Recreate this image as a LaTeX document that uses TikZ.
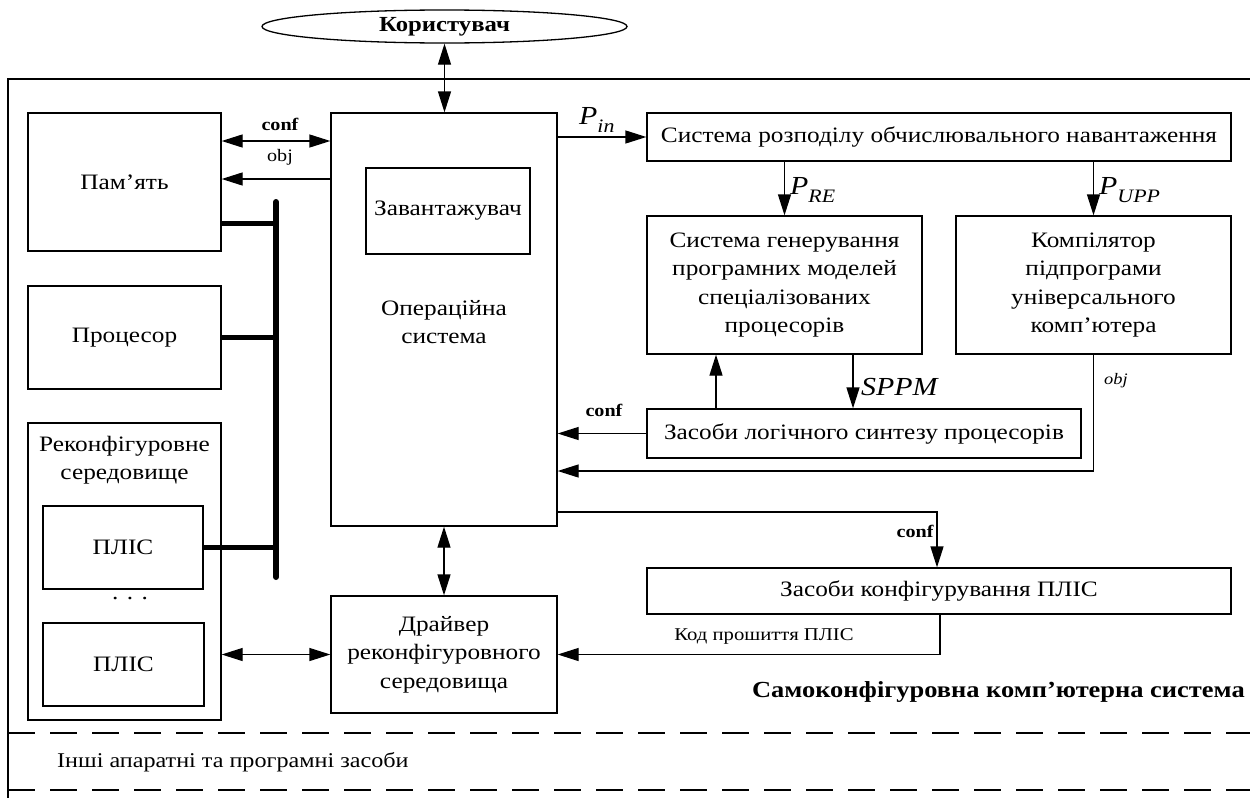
\documentclass[tikz,border=0pt]{standalone}
\usepackage{fontspec}
\setmainfont{Liberation Serif}[FakeStretch=1.15]
\usetikzlibrary{arrows.meta,shapes.geometric}
\begin{document}
\begin{tikzpicture}[x=1pt,y=-1pt,
  box/.style={draw, line width=1.3pt, inner sep=0pt, align=center, font=\fontsize{22}{28.5}\selectfont},
  con/.style={line width=1.3pt},
  arr/.style={con,-{Triangle[length=21pt,width=13pt]}},
  darr/.style={con,{Triangle[length=21pt,width=13pt]}-{Triangle[length=21pt,width=13pt]}},
  bus/.style={line width=6pt, line cap=round},
  busbr/.style={line width=5pt},
  lblb/.style={font=\fontsize{17.5}{18}\selectfont\bfseries, inner sep=0pt},
  lbl/.style={font=\fontsize{17.5}{18}\selectfont, inner sep=0pt},
  lbli/.style={font=\fontsize{26}{26}\selectfont\itshape, inner sep=0pt},
]
\useasboundingbox (0,0) rectangle (1250,798);
\fill[white] (0,0) rectangle (1250,798);

% frame
\draw[line width=2pt] (1250,78.5) -- (8,78.5) -- (8,798);
\draw[line width=1.3pt, dash pattern=on 27pt off 15pt] (8,733) -- (1250,733);
\draw[line width=1.3pt, dash pattern=on 27pt off 15pt] (8,790) -- (1250,790);

% nodes
\node[draw, ellipse, line width=1.3pt, minimum width=365pt, minimum height=33pt, inner sep=0pt,
      font=\fontsize{21.5}{22}\selectfont\bfseries] (user) at (444.5,26.5) {Користувач};

\node[box, minimum width=193pt, minimum height=138pt] (mem) at (124.5,182) {Пам’ять};
\node[box, minimum width=193pt, minimum height=103pt] (proc) at (124.5,337.5) {Процесор};
\node[box, minimum width=193pt, minimum height=297pt] (reconf) at (124.5,571.5) {};
\node[font=\fontsize{22}{28.5}\selectfont, align=center, anchor=north, inner sep=0pt] (reconft) at (124.5,436) {Реконфігуровне\\середовище};
\node[box, minimum width=160pt, minimum height=83pt] (plis1) at (123,547.5) {ПЛІС};
\node[box, minimum width=161pt, minimum height=83pt] (plis2) at (123.5,664.5) {ПЛІС};
\node[font=\fontsize{22}{22}\selectfont, inner sep=0pt] (dots) at (130,599) {. . .};

\node[box, minimum width=226pt, minimum height=413pt] (os) at (444,319.5) {};
\node[font=\fontsize{22}{28.5}\selectfont, align=center, inner sep=0pt] (ost) at (444,322) {Операційна\\система};
\node[box, minimum width=164pt, minimum height=86pt] (load) at (448,211) {Завантажувач};
\node[box, minimum width=226pt, minimum height=117pt] (driver) at (444,654.5) {Драйвер\\реконфігуровного\\середовища};

\node[box, minimum width=584pt, minimum height=48pt] (dist) at (939,137) {Система розподілу обчислювального навантаження};
\node[box, minimum width=275pt, minimum height=138pt] (gen) at (784.5,285) {Система генерування\\програмних моделей\\спеціалізованих\\процесорів};
\node[box, minimum width=275pt, minimum height=138pt] (comp) at (1093.5,285) {Компілятор\\підпрограми\\універсального\\комп’ютера};
\node[box, minimum width=434pt, minimum height=49pt] (synth) at (864,433.5) {Засоби логічного синтезу процесорів};
\node[box, minimum width=584pt, minimum height=46pt] (cfg) at (939,591) {Засоби конфігурування ПЛІС};

% helper coordinates
\coordinate (yc) at (0,141);
\coordinate (yo) at (0,179);
\coordinate (xup) at (716,0);
\coordinate (xsp) at (853,0);
\coordinate (yob) at (0,471);
\coordinate (ycf) at (0,512);
\coordinate (xcf) at (937,0);
\coordinate (xk) at (940,0);
\coordinate (bt) at (276,202);
\coordinate (bb) at (276,577);
\coordinate (y1) at (0,223);
\coordinate (y2) at (0,337);
\coordinate (y3) at (0,547);

% bus
\draw[bus] (bt) -- (bb);
\draw[busbr] (mem.east |- y1) -- (bt |- y1);
\draw[busbr] (proc.east |- y2) -- (bt |- y2);
\draw[busbr] (plis1.east |- y3) -- (bt |- y3);

% connectors
\draw[darr] (user.south) -- (user.south |- os.north);
\draw[darr] (mem.east |- yc) -- (os.west |- yc);
\draw[arr] (os.west |- yo) -- (mem.east |- yo);
\draw[arr] (os.east |- dist.west) -- (dist.west);
\draw[arr] (dist.south -| gen.north) -- (gen.north);
\draw[arr] (dist.south -| comp.north) -- (comp.north);
\draw[arr] (synth.north -| xup) -- (gen.south -| xup);
\draw[arr] (gen.south -| xsp) -- (synth.north -| xsp);
\draw[arr] (synth.west) -- (synth.west -| os.east);
\draw[arr] (comp.south) |- (os.east |- yob);
\draw[arr] (os.east |- ycf) -| (cfg.north -| xcf);
\draw[arr] (cfg.south -| xk) |- (driver.east);
\draw[darr] (os.south) -- (driver.north);
\draw[darr] (driver.west -| reconf.east) -- (driver.west);

% labels
\node[lblb] (l1) at (280,124) {conf};
\node[lbl] (l2) at (280,157) {obj};
\node[lbli, anchor=base west] (lpin) at (579,124) {P\raisebox{-8pt}{\fontsize{19}{19}\selectfont in}};
\node[lbli, anchor=base west] (lpre) at (790,194) {P\raisebox{-8pt}{\fontsize{19}{19}\selectfont RE}};
\node[lbli, anchor=base west] (lpupp) at (1099,194) {P\raisebox{-8pt}{\fontsize{19}{19}\selectfont UPP}};
\node[lbli, anchor=base west] (lsppm) at (861,395) {SPPM};
\node[font=\fontsize{16}{16}\selectfont\itshape, anchor=west, inner sep=0pt] (lobj) at (1104,381) {obj};
\node[lblb] (l3) at (604,410) {conf};
\node[lblb] (l4) at (915,531) {conf};
\node[font=\fontsize{18}{18}\selectfont, inner sep=0pt] (lkod) at (764,636) {Код прошиття ПЛІС};
\node[font=\fontsize{23}{22}\selectfont\bfseries, anchor=east, inner sep=0pt] (ltitle) at (1245,692) {Самоконфігуровна комп’ютерна система};
\node[font=\fontsize{21}{21}\selectfont, anchor=west, inner sep=0pt] (lother) at (57,762) {Інші апаратні та програмні засоби};
\end{tikzpicture}
\end{document}
